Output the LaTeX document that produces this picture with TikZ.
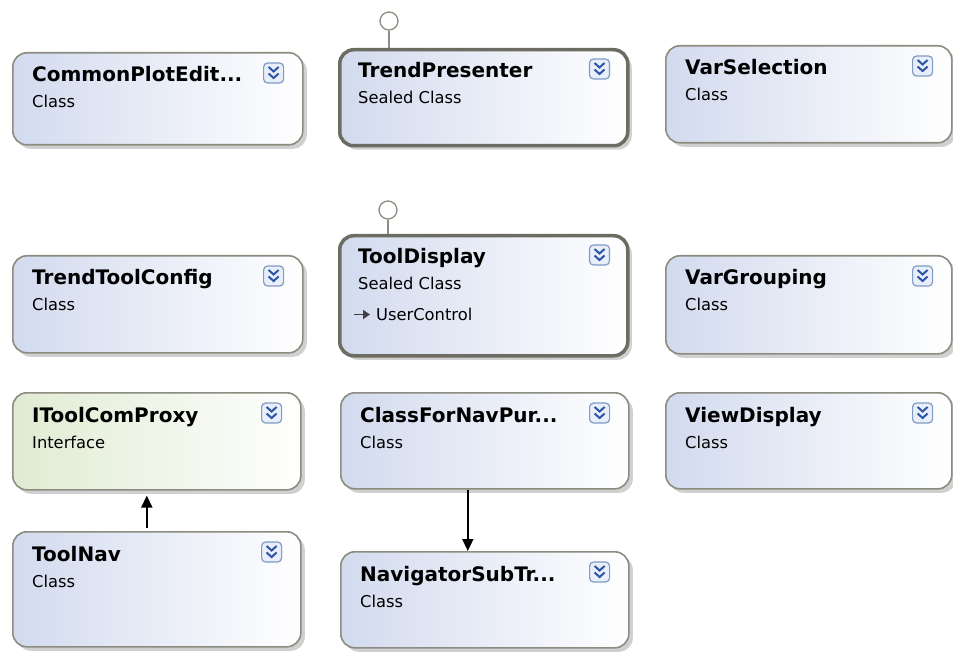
\documentclass[tikz,border=0pt]{standalone}
\usepackage{fontspec}
\setmainfont{DejaVu Sans}
\usetikzlibrary{arrows.meta,shadows}
\newcommand\mythreedots{...}
\definecolor{boxblue}{RGB}{210,218,238}
\definecolor{boxgreen}{RGB}{224,235,210}
\definecolor{bordergray}{RGB}{140,140,128}
\definecolor{thickgray}{RGB}{108,108,98}
\definecolor{iconblue}{RGB}{45,85,165}
\definecolor{iconborder}{RGB}{130,155,195}
\definecolor{iconfill}{RGB}{232,238,250}
\tikzset{
  classbox/.style={draw=bordergray, line width=1.6pt, rounded corners=14pt,
    left color=boxblue, right color=white, minimum width=290pt, minimum height=95pt,
    anchor=north west, inner sep=0pt,
    drop shadow={shadow xshift=4pt, shadow yshift=-4pt, fill=black!30, opacity=0.6}},
  sealedbox/.style={classbox, draw=thickgray, line width=3.5pt},
  ifacebox/.style={classbox, left color=boxgreen},
  titletext/.style={font=\fontsize{20}{20}\selectfont\bfseries, anchor=base west, inner sep=0pt},
  subtext/.style={font=\fontsize{16.3}{16.3}\selectfont, anchor=base west, inner sep=0pt},
  lolly/.style={circle, draw=bordergray, line width=1.3pt, fill=white, minimum size=18pt, inner sep=0pt},
  lollystem/.style={draw=bordergray, line width=1.6pt},
  assoc/.style={draw=black, line width=1.8pt, -{Triangle[length=12pt,width=11pt]}},
  basearrow/.style={draw=black!75, line width=1.8pt, -{Triangle[length=7pt,width=9pt]}},
  expander/.pic={
    \draw[draw=iconborder, fill=iconfill, line width=1.2pt, rounded corners=4pt] (-10,-10) rectangle (10,10);
    \draw[iconblue, line width=2pt] (-5,-6) -- (0,-1.5) -- (5,-6);
    \draw[iconblue, line width=2pt] (-5,0.5) -- (0,5) -- (5,0.5);
  }
}
\begin{document}
\begin{tikzpicture}[x=1pt, y=-1pt]
\useasboundingbox[fill=white] (0,0) rectangle (953,652);

% row 1
\node[classbox, minimum height=92pt] (cpe) at (12,52) {};
\node[sealedbox, minimum width=288pt, minimum height=96pt] (tp) at (338,48) {};
\node[classbox, minimum width=286pt, minimum height=97pt] (vs) at (665,45) {};
% row 2
\node[classbox, minimum height=97pt] (ttc) at (12,255) {};
\node[sealedbox, minimum width=288pt, minimum height=120pt] (td) at (338,234) {};
\node[classbox, minimum width=286pt, minimum height=98pt] (vg) at (665,255) {};
% row 3
\node[ifacebox, minimum width=288pt, minimum height=97pt] (itp) at (12,392) {};
\node[classbox, minimum width=288pt, minimum height=96pt] (cfn) at (340,392) {};
\node[classbox, minimum width=286pt, minimum height=96pt] (vd) at (665,392) {};
% row 4
\node[classbox, minimum width=288pt, minimum height=115pt] (tn) at (12,531) {};
\node[classbox, minimum width=288pt, minimum height=96pt] (nst) at (340,551) {};

% texts
\foreach \b/\t/\s in {cpe/CommonPlotEdit\mythreedots/Class, tp/TrendPresenter/Sealed Class, vs/VarSelection/Class,
  ttc/TrendToolConfig/Class, td/ToolDisplay/Sealed Class, vg/VarGrouping/Class,
  itp/IToolComProxy/Interface, cfn/ClassForNavPur\mythreedots/Class, vd/ViewDisplay/Class,
  tn/ToolNav/Class, nst/NavigatorSubTr\mythreedots/Class}{
  \node[titletext] (\b-title) at ([xshift=20pt, yshift=-30pt]\b.north west) {\t};
  \node[subtext] (\b-sub) at ([xshift=20pt, yshift=-56pt]\b.north west) {\s};
  \pic at ([xshift=-30pt, yshift=-21pt]\b.north east) {expander};
}
\node[subtext] (td-base) at ([xshift=38pt, yshift=-86pt]td.north west) {UserControl};
\coordinate (td-arr) at ([xshift=-22pt, yshift=5.5pt]td-base.base west);
\draw[basearrow] (td-arr) -- ([xshift=16pt]td-arr);

% lollipops
\node[lolly] (tp-lp) at (389,21) {};
\draw[lollystem] (tp-lp.south) -- (tp-lp.south |- tp.north);
\node[lolly] (td-lp) at (388,210) {};
\draw[lollystem] (td-lp.south) -- (td-lp.south |- td.north);

% connectors
\draw[assoc, shorten <=3pt, shorten >=5pt] ([xshift=-10pt]tn.north) -- ([xshift=-10pt]itp.south);
\draw[assoc] ([xshift=-17pt]cfn.south) -- ([xshift=-17pt]nst.north);
\end{tikzpicture}
\end{document}
